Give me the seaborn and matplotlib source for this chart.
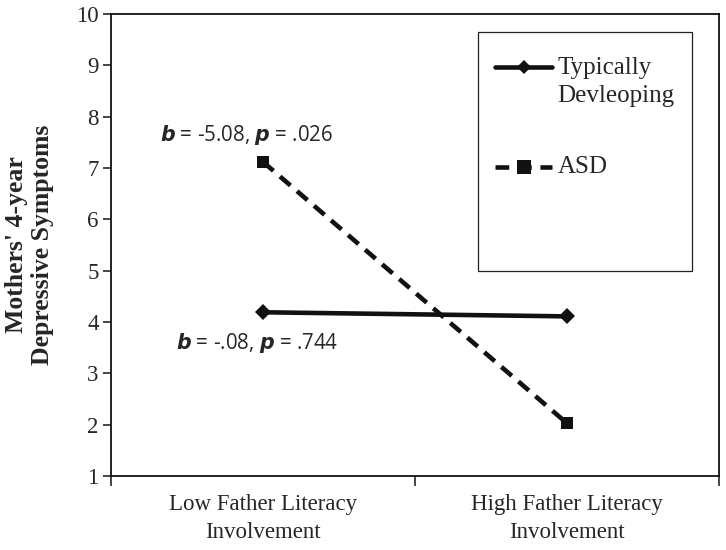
import numpy as np
import pandas as pd
import seaborn as sns
import matplotlib
matplotlib.use("Agg")
from matplotlib import pyplot as plt
from matplotlib.patches import Rectangle

# data
conditions = ["Low Father Literacy\nInvolvement", "High Father Literacy\nInvolvement"]
groups = ["Typically\nDevleoping", "ASD"]
td_values = [4.19, 4.11]
asd_values = [7.12, 2.03]
yticks = list(range(1, 11))
annot_asd = r"$\boldsymbol{b}$ = -5.08, $\boldsymbol{p}$ = .026"
annot_td = r"$\boldsymbol{b}$ = -.08, $\boldsymbol{p}$ = .744"

df = pd.DataFrame({
    "condition": conditions * 2,
    "group": [groups[0]] * 2 + [groups[1]] * 2,
    "score": td_values + asd_values,
})

sns.set_style("white")
plt.rcParams["font.family"] = ["Liberation Serif", "DejaVu Serif"]
plt.rcParams["mathtext.fontset"] = "custom"
plt.rcParams["mathtext.rm"] = "Open Sans"
plt.rcParams["mathtext.it"] = "Open Sans:italic"
plt.rcParams["mathtext.bf"] = "Open Sans:bold:italic"

INK = "#111111"
DASH = (0, (3.0, 1.9))

fig = plt.figure(figsize=(7.26, 5.5), dpi=100)
ax = fig.add_axes([0.153, 0.1345, 0.837, 0.84])

ax = sns.lineplot(data=df, x="condition", y="score", hue="group", style="group",
                  palette=[INK, INK], markers={groups[0]: "D", groups[1]: "s"},
                  dashes={groups[0]: "", groups[1]: (3.0, 1.9)},
                  markersize=9, linewidth=3.3, markeredgewidth=0, ax=ax, legend=False)
ax.lines[0].set_markersize(8)

ax.set_xlim(-0.5, 1.5)
ax.set_ylim(1, 10)
ax.set_yticks(yticks)
ax.set_yticklabels([str(t) for t in yticks], fontsize=16.5)
ax.set_xticks([-0.5, 0.5, 1.5])
ax.set_xticklabels([])
ax.set_xticks([0, 1], minor=True)
ax.set_xticklabels(conditions, minor=True, fontsize=16.5, linespacing=1.45)
ax.tick_params(axis="x", which="major", direction="out", length=7, width=1.2, bottom=True)
ax.tick_params(axis="x", which="minor", length=0, pad=13)
ax.tick_params(axis="y", direction="out", length=6, width=1.2, left=True, pad=3)
ax.set_xlabel("")
ax.set_ylabel("Mothers' 4-year\nDepressive Symptoms", fontsize=18.5, fontweight="bold",
              linespacing=1.15, labelpad=16)
for s in ax.spines.values():
    s.set_visible(True)
    s.set_color(INK)
    s.set_linewidth(1.3)

ax.text(-0.053, 7.64, annot_asd, fontsize=14.8, family="Open Sans", ha="center", va="center")
ax.text(-0.02, 3.59, annot_td, fontsize=14.8, family="Open Sans", ha="center", va="center")

# legend box, drawn by hand so the handle sits on the first label line
ax.add_patch(Rectangle((0.604, 0.444), 0.352, 0.517, transform=ax.transAxes,
                       fill=False, edgecolor="#222222", linewidth=0.9, zorder=3))
ax.plot([0.632, 0.725], [0.885, 0.885], transform=ax.transAxes, color=INK, lw=3.3)
ax.plot([0.679], [0.885], transform=ax.transAxes, color=INK, marker="D", ms=7, mew=0)
ax.plot([0.632, 0.725], [0.669, 0.669], transform=ax.transAxes, color=INK, lw=3.3, ls=DASH)
ax.plot([0.679], [0.669], transform=ax.transAxes, color=INK, marker="s", ms=10, mew=0)
ax.text(0.735, 0.852, groups[0], transform=ax.transAxes, fontsize=18, va="center",
        ha="left", linespacing=1.35)
ax.text(0.735, 0.669, groups[1], transform=ax.transAxes, fontsize=18, va="center", ha="left")

fig.savefig("out.png", dpi=100)
